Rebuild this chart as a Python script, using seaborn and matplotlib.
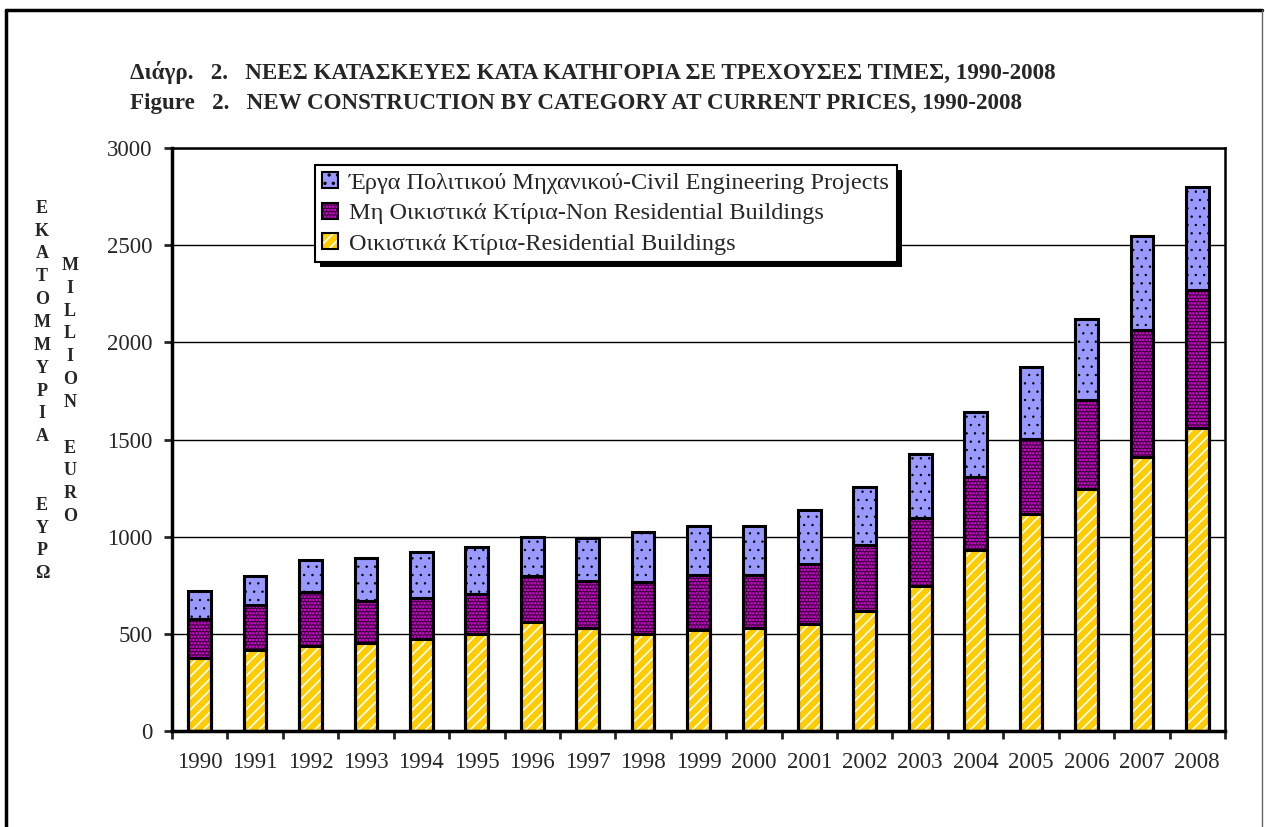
import matplotlib
matplotlib.use("Agg")
import matplotlib.pyplot as plt
from matplotlib.lines import Line2D
from matplotlib.patches import Patch, Rectangle
from matplotlib.transforms import IdentityTransform
import numpy as np
import seaborn as sns

# values in million euro
years = [str(y) for y in range(1990, 2009)]
residential = [374, 418, 439, 454, 474, 498, 559, 529, 500, 522,
               529, 552, 620, 747, 930, 1117, 1246, 1411, 1561]
non_residential = [203, 230, 274, 213, 208, 207, 239, 242, 266, 280,
                   275, 309, 337, 351, 378, 385, 457, 651, 706]
civil = [145, 150, 166, 222, 241, 243, 200, 224, 256, 253,
         251, 278, 297, 326, 335, 369, 418, 483, 531]

labels = [
    "Έργα Πολιτικού Μηχανικού-Civil Engineering Projects",
    "Μη Οικιστικά Κτίρια-Non Residential Buildings",
    "Οικιστικά Κτίρια-Residential Buildings",
]
yticks = [0, 500, 1000, 1500, 2000, 2500, 3000]

sns.set_style("white")
plt.rcParams["font.family"] = ["Liberation Serif", "DejaVu Serif"]
plt.rcParams["hatch.linewidth"] = 1.2

fig = plt.figure(figsize=(12.65, 8.27), dpi=100)
ax = fig.add_axes([172 / 1265, 1 - 731 / 827, (1225 - 172) / 1265, 583 / 827])

res = np.array(residential)
top_nonres = res + np.array(non_residential)
total = top_nonres + np.array(civil)

# (heights, face, hatch, hatch colour, hatch width) - tallest first, stacking by overlap
layers = [
    (total, "#9999FF", "..", "black", 0.5),
    (top_nonres, "#3a003a", ".....", "#FF00FF", 1.2),
    (res, "#FFCC00", "///", "white", 1.2),
]


def style_hatch(p, face, hatch, hcol, hlw):
    p.set_facecolor(face)
    p.set_edgecolor(hcol)
    p.set_hatch(hatch)
    p.set_linewidth(0)
    if hasattr(p, "set_hatch_linewidth"):
        p.set_hatch_linewidth(hlw)


bar_w = 0.41
for vals, face, hatch, hcol, hlw in layers:
    n0 = len(ax.patches)
    sns.barplot(x=years, y=vals, color=face, saturation=1, width=bar_w, ax=ax)
    for p in ax.patches[n0:]:
        style_hatch(p, face, hatch, hcol, hlw)

# black outlines of each segment
for vals, *_ in layers:
    n0 = len(ax.patches)
    sns.barplot(x=years, y=vals, color="white", width=bar_w, ax=ax)
    for p in ax.patches[n0:]:
        p.set_facecolor("none")
        p.set_edgecolor("black")
        p.set_linewidth(2.2)

ax.set_xlim(-0.5, len(years) - 0.5)
ax.set_ylim(0, 3000)
ax.set_yticks(yticks)
ax.set_xlabel("")
ax.set_ylabel("")
ax.yaxis.grid(True, color="black", linewidth=1)
ax.set_axisbelow(True)

ax.set_xticks(np.arange(-0.5, len(years)), minor=True)
ax.tick_params(axis="x", which="major", length=0, pad=15, labelsize=16.5)
ax.tick_params(axis="x", which="minor", direction="out", length=6, width=2, bottom=True)
ax.tick_params(axis="y", which="major", direction="out", length=6, width=2, pad=8,
               labelsize=16.5, left=True)

for side in ["left", "bottom"]:
    ax.spines[side].set_linewidth(2.5)
    ax.spines[side].set_color("black")
for side in ["top", "right"]:
    ax.spines[side].set_linewidth(1.8)
    ax.spines[side].set_color("black")
    ax.spines[side].set_visible(True)

# legend with hatched swatches and black outlines
handles = []
for _, face, hatch, hcol, hlw in layers:
    fill = Patch()
    style_hatch(fill, face, hatch, hcol, hlw)
    edge = Patch(facecolor="none", edgecolor="black", linewidth=1.5)
    handles.append((fill, edge))
leg = ax.legend(handles, labels, loc="upper left", bbox_to_anchor=(0.136, 0.971),
                borderaxespad=0, fontsize=17.5, frameon=True, fancybox=False,
                framealpha=1, edgecolor="black", handlelength=0.65, handleheight=0.65,
                handletextpad=0.45, labelspacing=0.36, borderpad=0.3)
leg.get_frame().set_linewidth(1.5)

fig.canvas.draw()
bb = leg.get_window_extent()
ax.add_patch(Rectangle((bb.x0 + 5, bb.y0 - 5), bb.width, bb.height, facecolor="black",
                       edgecolor="none", transform=IdentityTransform(), zorder=4.9,
                       clip_on=False))

# titles
fig.text(130 / 1265, 1 - 73 / 827,
         "Διάγρ.   2.   ΝΕΕΣ ΚΑΤΑΣΚΕΥΕΣ ΚΑΤΑ ΚΑΤΗΓΟΡΙΑ ΣΕ ΤΡΕΧΟΥΣΕΣ ΤΙΜΕΣ, 1990-2008",
         fontsize=16.6, fontweight="bold", va="center", ha="left")
fig.text(130 / 1265, 1 - 103 / 827,
         "Figure   2.   NEW CONSTRUCTION BY CATEGORY AT CURRENT PRICES, 1990-2008",
         fontsize=16.6, fontweight="bold", va="center", ha="left")

# stacked-letter axis titles
col_gr = "Ε\nΚ\nΑ\nΤ\nΟ\nΜ\nΜ\nΥ\nΡ\nΙ\nΑ\n\n\nΕ\nΥ\nΡ\nΩ"
col_en = "M\nI\nL\nL\nI\nO\nN\n\nE\nU\nR\nO"
fig.text(42 / 1265, 1 - 391 / 827, col_gr, fontsize=13, fontweight="bold",
         ha="center", va="center", linespacing=1.45, multialignment="center")
fig.text(70 / 1265, 1 - 391 / 827, col_en, fontsize=13, fontweight="bold",
         ha="center", va="center", linespacing=1.45, multialignment="center")

# page frame
fig.add_artist(Line2D([6 / 1265, 6 / 1265], [0, 1 - 10 / 827], color="black", lw=2.5,
                      transform=fig.transFigure))
fig.add_artist(Line2D([6 / 1265, 1262 / 1265], [1 - 10 / 827, 1 - 10 / 827], color="black",
                      lw=2.5, transform=fig.transFigure))
fig.add_artist(Line2D([1262 / 1265, 1262 / 1265], [0, 1 - 10 / 827], color="#666666", lw=1,
                      transform=fig.transFigure))

fig.savefig("out.png", dpi=100)
